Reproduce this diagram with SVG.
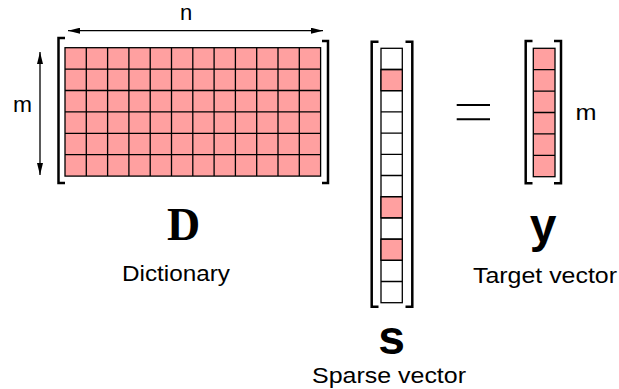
<svg xmlns="http://www.w3.org/2000/svg" width="619" height="389" viewBox="0 0 619 389">
<style>
.cell{fill:#FFA0A0;stroke:#000;stroke-width:1.3}
.empty{fill:#fff;stroke:#000;stroke-width:1.3}
.grid{fill:none;stroke:#000;stroke-width:1.3}
.br{fill:none;stroke:#000;stroke-width:2.5}
.arr{fill:none;stroke:#000;stroke-width:1.3}
.lbl{font-family:"Liberation Sans",Arial,sans-serif;font-size:22px;fill:#000}
.big{font-family:"Liberation Sans",Arial,sans-serif;font-size:48px;font-weight:bold;fill:#000}
.bigs{font-family:"Liberation Serif","Times New Roman",serif;font-size:46px;font-weight:bold;fill:#000}
</style>
<defs>
<marker id="ah" viewBox="0 0 12 6" refX="12" refY="3" markerWidth="12" markerHeight="6" markerUnits="userSpaceOnUse" orient="auto-start-reverse">
<path d="M0,0 L12,3 L0,6 Z" fill="#000"/>
</marker>
</defs>
<g id="connectors">
<line class="arr" x1="68" y1="30.7" x2="323" y2="30.7" marker-start="url(#ah)" marker-end="url(#ah)"/>
<line class="arr" x1="40" y1="52" x2="40" y2="175" marker-start="url(#ah)" marker-end="url(#ah)"/>
</g>
<g id="dictionary">
<rect class="cell" x="65" y="47.7" width="255.6" height="128.4"/>
<path class="grid" d="M86.3,47.7V176.1M107.6,47.7V176.1M128.9,47.7V176.1M150.2,47.7V176.1M171.5,47.7V176.1M192.8,47.7V176.1M214.1,47.7V176.1M235.4,47.7V176.1M256.7,47.7V176.1M278,47.7V176.1M299.3,47.7V176.1M65,69.1H320.6M65,90.5H320.6M65,111.9H320.6M65,133.3H320.6M65,154.7H320.6"/>
<path class="br" d="M65,38H58.5V183H65"/>
<path class="br" d="M322,41H328V183H322"/>
<text class="lbl" x="186" y="19.5" text-anchor="middle">n</text>
<text class="lbl" x="22.5" y="112" text-anchor="middle" textLength="19" lengthAdjust="spacingAndGlyphs">m</text>
<text class="bigs" x="183.5" y="239.5" text-anchor="middle">D</text>
<text class="lbl" x="122" y="281" textLength="108" lengthAdjust="spacingAndGlyphs">Dictionary</text>
</g>
<g id="sparse">
<rect class="empty" x="381" y="48.3" width="21.3" height="254.4"/>
<rect class="cell" x="381" y="69.5" width="21.3" height="21.2"/>
<rect class="cell" x="381" y="196.7" width="21.3" height="21.2"/>
<rect class="cell" x="381" y="239.1" width="21.3" height="21.2"/>
<path class="grid" d="M381,69.5H402.3M381,90.7H402.3M381,111.9H402.3M381,133.1H402.3M381,154.3H402.3M381,175.5H402.3M381,196.7H402.3M381,217.9H402.3M381,239.1H402.3M381,260.3H402.3M381,281.5H402.3"/>
<path class="br" d="M378.5,41.7H371.7V306.7H378.5"/>
<path class="br" d="M405.5,41.7H412.3V306.7H405.5"/>
<text class="big" x="391.5" y="353.5" text-anchor="middle">s</text>
<text class="lbl" x="312" y="382.5" textLength="154" lengthAdjust="spacingAndGlyphs">Sparse vector</text>
</g>
<g id="equals">
<path d="M456.7,105H490M456.7,119.3H490" stroke="#000" stroke-width="2" fill="none"/>
</g>
<g id="target">
<rect class="cell" x="533.3" y="48.3" width="21.7" height="128.4"/>
<path class="grid" d="M533.3,69.7H555M533.3,91.1H555M533.3,112.5H555M533.3,133.9H555M533.3,155.3H555"/>
<path class="br" d="M532.5,41H525.7V183.3H532.5"/>
<path class="br" d="M554,41H561V183.3H554"/>
<text class="lbl" x="586" y="119.5" text-anchor="middle" textLength="21" lengthAdjust="spacingAndGlyphs">m</text>
<text class="big" x="543" y="242" text-anchor="middle">y</text>
<text class="lbl" x="473" y="283" textLength="144" lengthAdjust="spacingAndGlyphs">Target vector</text>
</g>
</svg>
